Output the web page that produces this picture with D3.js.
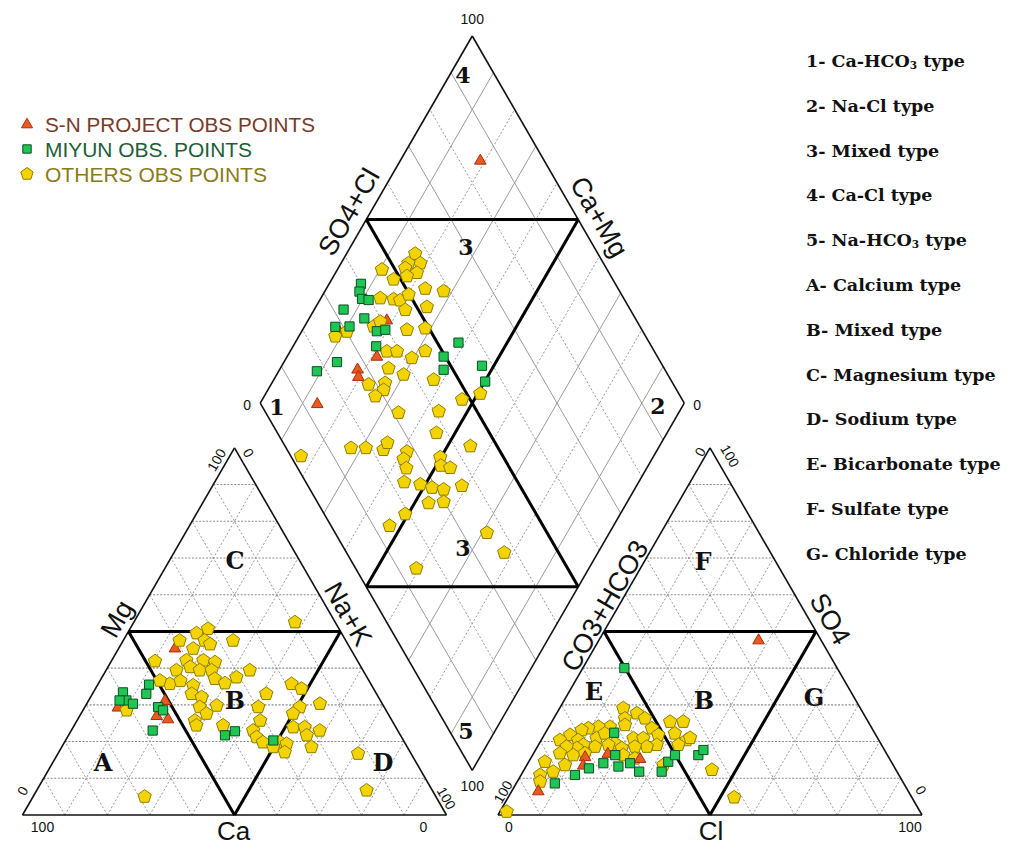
<!DOCTYPE html>
<html>
<head>
<meta charset="utf-8">
<script src="https://cdn.jsdelivr.net/npm/d3@7"></script>
<style>
  body { margin: 0; background: #fff; }
  svg { display: block; }
</style>
</head>
<body>
<svg id="chart" width="1022" height="846"></svg>
<script>
// ---------- Data (percent of meq/L) ----------
// Cation triangle: [Mg, Na+K]  (Ca = 100 - Mg - Na+K)
const snCation = [[45.5,13.2],[29.4,7.8],[27.1,18.1],[26.2,21.2],[31.2,18.0]];
const miyunCation = [[33.4,7.0],[31.2,8.9],[30.3,10.9],[35.5,12.1],[33.0,12.7],[29.4,17.3],[28.5,18.9],
  [23.0,19.2],[21.7,36.9],[22.8,38.7],[20.3,49.0],[31.2,7.3]];
const othersCation = [[47.5,13.3],[49.5,16.3],[50.7,18.4],[47.5,19.2],[47.5,25.9],[41.9,10.3],[45.3,17.6],
  [42.1,17.6],[42.1,21.6],[41.6,24.6],[39.4,16.6],[40.3,19.4],[39.4,22.1],[39.4,24.9],[39.4,33.9],[35.7,16.9],
  [36.6,14.1],[35.3,22.6],[37.1,26.8],[35.9,29.8],[37.5,31.7],[33.0,23.4],[32.1,26.2],[29.8,30.9],[29.4,27.1],
  [27.6,29.6],[25.7,27.8],[24.4,28.8],[24.4,35.1],[33.0,41.0],[35.7,45.6],[34.4,48.6],[30.3,55.0],[29.4,40.9],
  [29.4,50.7],[27.6,50.0],[25.7,43.2],[23.0,42.9],[23.9,51.9],[23.9,54.6],[23.0,58.6],[21.7,56.2],[21.2,44.6],
  [19.8,46.8],[19.8,50.8],[19.4,52.6],[18.5,49.9],[17.1,53.3],[18.5,58.9],[16.7,70.8],[6.7,77.8],[5.0,26.3],
  [52.5,38.0],[28.5,10.3],[46.5,21.0],[36.5,19.0]];

// Anion triangle: [SO4, Cl]  (CO3+HCO3 = 100 - SO4 - Cl)
const snAnion = [[47.7,37.6],[6.6,6.2],[15.9,12.6],[16.8,17.5],[15.4,25.8],[13.6,13.3]];
const miyunAnion = [[40.0,9.8],[8.6,9.1],[10.9,12.7],[12.7,15.1],[14.1,17.8],[13.2,21.8],[14.1,24.1],
  [11.8,27.4],[11.8,32.7],[14.5,32.9],[16.3,33.6],[16.3,39.1],[17.7,39.6],[16.3,19.5],[22.4,16.2]];
const othersAnion = [[29.1,15.0],[27.7,18.9],[26.3,21.5],[26.3,16.8],[24.5,17.7],[24.0,14.4],[24.0,11.7],
  [23.6,9.5],[23.1,8.2],[21.8,6.1],[20.4,4.4],[20.4,8.7],[20.9,12.8],[22.2,14.1],[19.5,17.8],[20.9,21.5],
  [20.9,23.8],[23.6,24.5],[21.8,26.9],[25.4,27.9],[25.4,31.0],[22.2,30.6],[20.4,34.3],[19.1,33.0],[19.1,27.9],
  [18.6,25.8],[18.6,23.0],[18.2,20.1],[19.1,16.5],[18.6,13.6],[19.1,10.6],[18.2,9.5],[18.6,6.9],[16.8,6.2],
  [16.3,9.6],[16.8,12.1],[14.5,3.8],[13.6,9.0],[11.8,7.1],[10.9,4.5],[9.1,5.4],[16.3,21.4],[15.4,24.6],
  [13.6,32.2],[12.3,44.3],[4.8,53.3],[0.9,1.6],[21.0,34.8]];

// Diamond: [SO4+Cl, Na+K]
const snDiamond = [[41.2,18.5],[33.9,21.1],[27.6,18.3],[26.8,19.5],[13.4,13.5],[28.5,8.4],[85.0,18.8]];
const miyunDiamond = [[40.0,7.5],[38.6,8.2],[38.2,9.8],[39.6,11.5],[32.4,6.9],[36.1,13.0],[28.1,7.3],
  [31.5,10.6],[37.3,17.7],[39.5,19.5],[35.1,19.6],[23.7,12.5],[17.7,9.0],[55.0,38.5],[49.6,36.9],[47.8,38.7],
  [57.4,47.2],[56.0,50.1]];
const othersDiamond = [[56.9,16.2],[56.8,18.7],[54.0,15.9],[52.6,15.8],[54.7,19.2],[46.9,10.5],[51.9,17.3],
  [48.3,14.6],[54.5,23.3],[58.5,28.0],[42.6,14.0],[45.6,17.3],[47.0,19.0],[49.8,20.2],[46.9,21.5],[52.4,26.2],
  [37.2,16.3],[39.4,17.2],[44.6,24.6],[49.1,28.7],[26.8,8.6],[30.2,10.7],[36.9,22.8],[39.3,25.2],[41.9,29.6],
  [46.0,31.8],[35.0,25.5],[37.7,29.9],[44.1,37.7],[28.1,23.0],[32.2,26.7],[30.9,27.3],[28.1,26.2],[31.3,33.9],
  [41.0,43.2],[48.1,47.1],[53.2,50.6],[37.5,45.6],[2.4,16.8],[15.3,27.5],[18.8,31.0],[22.7,35.4],[24.6,35.4],
  [28.0,41.2],[26.2,41.4],[25.6,43.3],[35.1,49.8],[34.1,51.1],[36.0,53.6],[43.7,55.4],[23.2,44.7],[26.7,48.8],
  [29.0,52.0],[31.5,55.0],[36.3,58.8],[26.1,53.3],[29.8,56.7],[19.1,49.3],[13.8,47.2],[35.8,71.1],[37.2,77.9],
  [14.3,59.3]];

const seriesNames = ["S-N PROJECT OBS POINTS", "MIYUN OBS. POINTS", "OTHERS OBS POINTS"];
const typeLegend = [
  ["1- Ca-HCO", "3", " type"], ["2- Na-Cl type"], ["3- Mixed type"], ["4- Ca-Cl type"],
  ["5- Na-HCO", "3", " type"], ["A- Calcium type"], ["B- Mixed type"], ["C- Magnesium type"],
  ["D- Sodium type"], ["E- Bicarbonate type"], ["F- Sulfate type"], ["G- Chloride type"]
];
const tickEnds = ["0", "100"];

// ---------- Geometry ----------
const svg = d3.select("#chart");
const side = 424, gap = 51.5, sin60 = Math.sqrt(3) / 2;
const len = d3.scaleLinear().domain([0, 100]).range([0, side]);
const cat0 = { x: 22.5, y: 815 };
const an0 = { x: cat0.x + side + gap, y: 815 };
const dia0 = { x: cat0.x + side + gap / 2, y: 815 - gap * sin60 };

const catPt = (mg, na) => [cat0.x + len(na + mg / 2), cat0.y - len(mg) * sin60];
const anPt = (so4, cl) => [an0.x + len(cl + so4 / 2), an0.y - len(so4) * sin60];
const diaPt = (sc, nak) => { const c = 100 - nak; return [dia0.x + len(sc - c) / 2, dia0.y - len(sc + c) * sin60]; };

const line = d3.line();
const gGrid = svg.append("g");
const gFrame = svg.append("g");
const gMarks = svg.append("g");
const gText = svg.append("g");

function seg(g, a, b, cls) {
  const p = g.append("path").attr("d", line([a, b])).attr("fill", "none");
  if (cls === "dot") p.attr("stroke", "#9a9a9a").attr("stroke-width", 1).attr("stroke-dasharray", "2,2");
  else if (cls === "hdot") p.attr("stroke", "#8a8a8a").attr("stroke-width", 1.1).attr("stroke-dasharray", "2,1.5");
  else if (cls === "solid") p.attr("stroke", "#9a9a9a").attr("stroke-width", 1);
  else if (cls === "edge") p.attr("stroke", "#111").attr("stroke-width", 1.6);
  else if (cls === "thick") p.attr("stroke", "#000").attr("stroke-width", 3);
  return p;
}

const steps = d3.range(10, 100, 10);

// Triangle grids
[catPt, anPt].forEach(pt => {
  steps.forEach(v => {
    seg(gGrid, pt(v, 0), pt(v, 100 - v), "hdot");
    seg(gGrid, pt(0, v), pt(100 - v, v), "dot");
    seg(gGrid, pt(0, 100 - v), pt(100 - v, 0), "dot");
  });
  seg(gFrame, pt(0, 0), pt(0, 100), "edge");
  seg(gFrame, pt(0, 100), pt(100, 0), "edge");
  seg(gFrame, pt(100, 0), pt(0, 0), "edge");
  // central sub-triangle
  seg(gFrame, pt(50, 0), pt(50, 50), "thick");
  seg(gFrame, pt(50, 50), pt(0, 50), "thick");
  seg(gFrame, pt(0, 50), pt(50, 0), "thick");
});

// Diamond grid
steps.forEach(v => {
  if (v === 50) return;
  const cls = (v / 10) % 2 === 1 ? "solid" : "dot";
  seg(gGrid, diaPt(v, 100), diaPt(v, 0), cls);
  seg(gGrid, diaPt(0, 100 - v), diaPt(100, 100 - v), cls);
});
seg(gFrame, diaPt(0, 100), diaPt(100, 100), "edge");
seg(gFrame, diaPt(100, 100), diaPt(100, 0), "edge");
seg(gFrame, diaPt(100, 0), diaPt(0, 0), "edge");
seg(gFrame, diaPt(0, 0), diaPt(0, 100), "edge");
seg(gFrame, diaPt(50, 0), diaPt(50, 100), "thick");
seg(gFrame, diaPt(0, 50), diaPt(100, 50), "thick");
seg(gFrame, diaPt(50, 0), diaPt(100, 50), "thick");
seg(gFrame, diaPt(0, 50), diaPt(50, 100), "thick");

// ---------- Markers ----------
const styles = [
  { fill: "#ea5a1e", stroke: "#a5300d", shape: "tri" },
  { fill: "#20c653", stroke: "#0d4d24", shape: "sq" },
  { fill: "#f3d400", stroke: "#8f7c00", shape: "pent" }
];
function shapePath(shape, r) {
  if (shape === "pent") {
    const pts = d3.range(5).map(k => { const a = -Math.PI / 2 + k * 2 * Math.PI / 5; return [r * Math.cos(a), r * Math.sin(a)]; });
    return d3.line()(pts) + "Z";
  }
  if (shape === "sq") return `M${-r},${-r}H${r}V${r}H${-r}Z`;
  const h = r * sin60 * 2;
  return `M0,${-h * 0.6}L${r},${h * 0.4}L${-r},${h * 0.4}Z`;
}
const sizes = { tri: 5.8, sq: 4.6, pent: 7 };
function drawSeries(data, pt, si) {
  const st = styles[si];
  gMarks.append("g").selectAll("path").data(data).join("path")
    .attr("d", shapePath(st.shape, sizes[st.shape]))
    .attr("transform", d => { const p = pt(d[0], d[1]); return `translate(${p[0]},${p[1]})`; })
    .attr("fill", st.fill).attr("stroke", st.stroke).attr("stroke-width", 1);
}
[[snCation, 0], [othersCation, 2], [miyunCation, 1]].forEach(([d, s]) => drawSeries(d, catPt, s));
[[othersAnion, 2], [snAnion, 0], [miyunAnion, 1]].forEach(([d, s]) => drawSeries(d, anPt, s));
[[snDiamond, 0], [othersDiamond, 2], [miyunDiamond, 1]].forEach(([d, s]) => drawSeries(d, diaPt, s));

// ---------- Text ----------
const sans = "'Liberation Sans', Arial, sans-serif";
const serif = "'DejaVu Serif', 'Liberation Serif', serif";
function txt(x, y, s, size, opts = {}) {
  const t = gText.append("text")
    .attr("transform", `translate(${x},${y}) rotate(${opts.rot || 0})`)
    .attr("text-anchor", opts.anchor || "middle")
    .attr("dominant-baseline", "central")
    .attr("font-family", opts.family || sans)
    .attr("font-size", size)
    .attr("font-weight", opts.weight || "normal")
    .attr("fill", opts.fill || "#111")
    .text(s);
  if (opts.width) t.attr("textLength", opts.width).attr("lengthAdjust", "spacingAndGlyphs");
  return t;
}

// axis names
const cTop = catPt(100, 0), aTop = anPt(100, 0);
const dTop = diaPt(100, 0), dLeft = diaPt(0, 0), dRight = diaPt(100, 100), dBot = diaPt(0, 100);
txt(cat0.x + side / 2 - 1, 831, "Ca", 26);
txt(an0.x + side / 2 + 1, 831, "Cl", 26);
txt(117, 619, "Mg", 27, { rot: -60 });
txt(348, 614, "Na+K", 27, { rot: 60 });
txt(605, 606, "CO3+HCO3", 27, { rot: -60 });
txt(830, 619, "SO4", 27, { rot: 60 });
txt(349, 212, "SO4+Cl", 27, { rot: -60 });
txt(599, 217, "Ca+Mg", 27, { rot: 60 });

// tick end labels
txt(dTop[0], dTop[1] - 17, tickEnds[1], 14);
txt(dLeft[0] - 13, dLeft[1] + 2, tickEnds[0], 14);
txt(dRight[0] + 13, dRight[1] + 2, tickEnds[0], 14);
txt(dBot[0], dBot[1] + 16, tickEnds[1], 14);

txt(cTop[0] - 18, cTop[1] + 12, tickEnds[1], 14, { rot: -60 });
txt(cTop[0] + 14, cTop[1] + 5, tickEnds[0], 14, { rot: 60 });
txt(cat0.x, cat0.y - 24, tickEnds[0], 14, { rot: -60 });
txt(cat0.x + side, cat0.y - 17, tickEnds[1], 14, { rot: 60 });
txt(cat0.x + 20, 827, tickEnds[1], 14);
txt(cat0.x + side - 23, 827, tickEnds[0], 14);

txt(aTop[0] - 10, aTop[1] + 4, tickEnds[0], 14, { rot: -60 });
txt(aTop[0] + 20, aTop[1] + 8, tickEnds[1], 14, { rot: 60 });
txt(an0.x + 5, an0.y - 23, tickEnds[1], 14, { rot: -60 });
txt(an0.x + side - 1, an0.y - 25, tickEnds[0], 14, { rot: 60 });
txt(an0.x + 11, 827, tickEnds[0], 14);
txt(an0.x + side - 12, 827, tickEnds[1], 14);

// region labels
const regionLabels = [
  ["4", 463, 75, 22], ["3", 466, 247, 22], ["1", 277, 407, 22], ["2", 658, 406, 22],
  ["3", 463, 548, 22], ["5", 466, 731, 22],
  ["C", 235, 560, 24], ["B", 235, 700, 24], ["A", 103, 762, 24], ["D", 383, 762, 24],
  ["F", 703, 561, 24], ["E", 594, 691, 24], ["B", 704, 700, 24], ["G", 814, 697, 24]
];
regionLabels.forEach(([s, x, y, fs]) => txt(x, y, s, fs, { family: serif, weight: "bold" }));

// series legend
const legColors = ["#7a3a28", "#1d5e38", "#8a7a18"];
const legWidths = [270, 207, 222];
seriesNames.forEach((name, i) => {
  const y = 124 + i * 25;
  const st = styles[i];
  gText.append("path").attr("d", shapePath(st.shape, st.shape === "pent" ? 6.5 : st.shape === "sq" ? 4.2 : 5.5))
    .attr("transform", `translate(27,${y})`).attr("fill", st.fill).attr("stroke", st.stroke);
  txt(45, y + 1, name, 19.5, { anchor: "start", fill: legColors[i], width: legWidths[i] });
});

// type legend
typeLegend.forEach((parts, i) => {
  const t = gText.append("text")
    .attr("x", 806).attr("y", 61 + i * 44.8)
    .attr("dominant-baseline", "central")
    .attr("font-family", serif).attr("font-weight", "bold").attr("font-size", 17.5)
    .attr("fill", "#111");
  parts.forEach((p, j) => {
    const ts = t.append("tspan").text(p);
    if (parts.length === 3 && j === 1) ts.attr("font-size", 10.5).attr("dy", 4);
    if (parts.length === 3 && j === 2) ts.attr("dy", -4);
  });
});
</script>
</body>
</html>
